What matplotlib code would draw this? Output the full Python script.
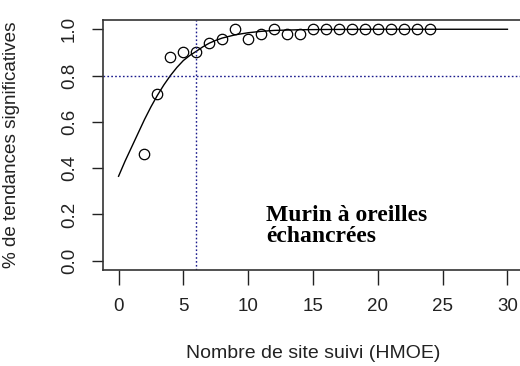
import numpy as np
import matplotlib.pyplot as plt
import matplotlib as mpl

# observed share of significant trends per number of sites followed
sites = [2, 3, 4, 5, 6, 7, 8, 9, 10, 11, 12, 13, 14,
         15, 16, 17, 18, 19, 20, 21, 22, 23, 24]
share = [0.46, 0.72, 0.88, 0.90, 0.90, 0.94, 0.96, 1.00, 0.96, 0.98, 1.00, 0.98, 0.98,
         1.00, 1.00, 1.00, 1.00, 1.00, 1.00, 1.00, 1.00, 1.00, 1.00]

# fitted curve
fit_x = [0, 0.5, 1, 1.5, 2, 2.5, 3, 3.5, 4, 4.5, 5, 5.5, 6, 6.5, 7, 7.5, 8,
         9, 10, 11, 12, 14, 16, 20, 30]
fit_y = [0.365, 0.43, 0.49, 0.55, 0.61, 0.665, 0.715, 0.76, 0.80, 0.835, 0.865,
         0.887, 0.905, 0.924, 0.94, 0.952, 0.962, 0.976, 0.985, 0.991, 0.995,
         0.998, 0.999, 1.0, 1.0]

threshold = 0.8
n_needed = 6

mpl.rcParams['font.family'] = 'Liberation Sans'
mpl.rcParams['font.size'] = 13.5

fig = plt.figure(figsize=(5.2, 3.66), dpi=100)
ax = fig.add_axes([103/520, 1-270/366, 420/520, 250/366])

ax.plot(fit_x, fit_y, color="black", lw=1)
ax.plot(sites, share, "o", mfc="none", mec="black", ms=7.5, mew=0.9)
ax.axhline(threshold, color="#1a1a8c", ls=(0, (1.2, 1.6)), lw=1)
ax.axvline(n_needed, color="#1a1a8c", ls=(0, (1.2, 1.6)), lw=1)

ax.set_xlim(-1.2, 31.2)
ax.set_ylim(-0.04, 1.04)
ax.set_xticks([0, 5, 10, 15, 20, 25, 30])
ax.set_yticks([0.0, 0.2, 0.4, 0.6, 0.8, 1.0])
ax.set_yticklabels(["0.0", "0.2", "0.4", "0.6", "0.8", "1.0"], rotation=90, va="center")
ax.tick_params(axis="x", length=11, width=1, pad=9, colors="#222222")
ax.tick_params(axis="y", length=8, width=1, pad=10, colors="#222222")
for s in ax.spines.values():
    s.set_color("#333333")
    s.set_linewidth(1.2)

ax.set_xlabel("Nombre de site suivi (HMOE)", color="#222222", fontsize=14)
ax.set_ylabel("% de tendances significatives", color="#222222", fontsize=13.6)
ax.xaxis.set_label_coords(0.5, -0.30)
ax.yaxis.set_label_coords(-0.198, 0.5)

ax.text(11.4, 0.242, "Murin à oreilles\néchancrées", family="Liberation Serif",
        fontweight="bold", fontsize=17, ha="left", va="top", linespacing=1.0)

fig.savefig("out.png", dpi=100)
